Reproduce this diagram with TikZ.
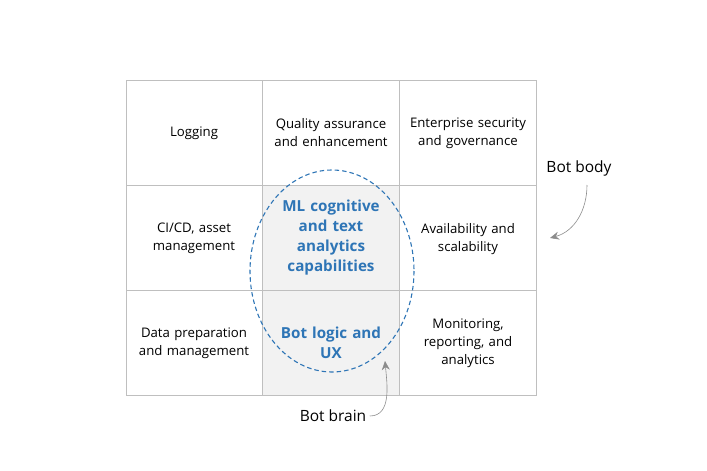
\documentclass[tikz,border=0pt]{standalone}
\usepackage{fontspec}
\setmainfont{Open Sans}
\usetikzlibrary{arrows.meta}
\definecolor{gridgray}{HTML}{BFBFBF}
\definecolor{cellgray}{HTML}{F2F2F2}
\definecolor{brainblue}{HTML}{2E75B6}

\begin{document}
\begin{tikzpicture}[x=1pt,y=-1pt]
	
	\tikzset{cell/.style = {align=center,font=\fontsize{13.2}{18}\selectfont,text width=132}}
	\tikzset{brain/.style = {align=center,font=\fontsize{15.2}{20}\selectfont\bfseries,text=brainblue,text width=132}}
	\tikzset{note/.style = {font=\fontsize{15.5}{18}\selectfont}}
	\tikzset{edge/.style = {-{Stealth[length=9pt,width=8pt]},draw=gray!90,semithick}}
	
	\useasboundingbox (0,0) rectangle (707,471);
	
	\fill[cellgray] (262,185) rectangle (399,395);
	\foreach \x in {262,399}
		\draw[gridgray] (\x,80) -- (\x,395);
	\foreach \y in {185,290}
		\draw[gridgray] (126,\y) -- (536,\y);
	\draw[gridgray] (126,80) rectangle (536,395);
	
	\node[cell] (log) at (194,133) {Logging};
	\node[cell] (qa) at (331,133) {Quality assurance\\and enhancement};
	\node[cell] (sec) at (468,133) {Enterprise security\\and governance};
	\node[cell] (cicd) at (194,238) {CI/CD, asset\\management};
	\node[brain] (ml) at (331,238) {ML cognitive\\and text\\analytics\\capabilities};
	\node[cell] (avail) at (468,239) {Availability and\\scalability};
	\node[cell] (data) at (194,343) {Data preparation\\and management};
	\node[brain] (logic) at (331,343) {Bot logic and\\UX};
	\node[cell] (mon) at (468,343) {Monitoring,\\reporting, and\\analytics};
	
	\draw[brainblue,line width=1.1pt,dash pattern=on 4.5pt off 3pt] (332,271) ellipse (82 and 101);
	
	\node[note] (body) at (579,168) {Bot body};
	\node[note] (brn) at (333,416) {Bot brain};
	\coordinate (bodyfoot) at (587,185);
	\coordinate (bodytip) at (550,238);
	\coordinate (braintip) at (385,361);
	
	\draw[edge] (bodyfoot) to[out=-90,in=15] (bodytip);
	\draw[edge] (brn.east) to[out=0,in=-85] (braintip);
	\end{tikzpicture}
\end{document}
